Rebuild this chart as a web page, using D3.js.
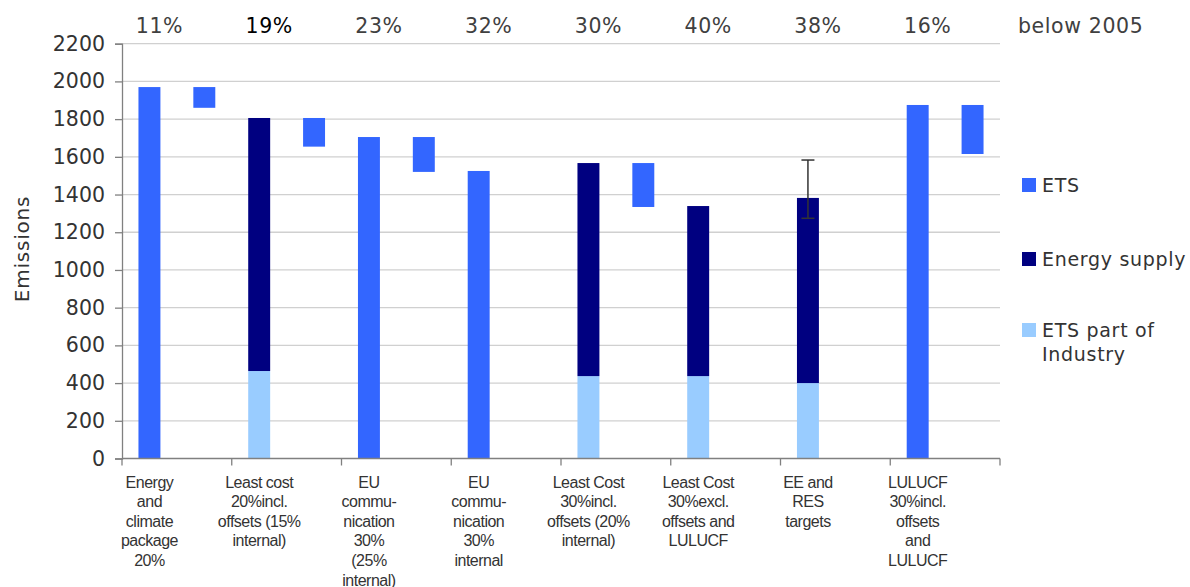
<!DOCTYPE html>
<html>
<head>
<meta charset="utf-8">
<script src="https://cdn.jsdelivr.net/npm/d3@7"></script>
<style>
  html, body { margin: 0; padding: 0; background: #fff; }
  svg { display: block; }
</style>
</head>
<body>
<svg id="chart" width="1190" height="587"></svg>
<script>
// Scenario names (multi-line x labels)
const categories = [
  ["Energy", "and", "climate", "package", "20%"],
  ["Least cost", "20%incl.", "offsets (15%", "internal)"],
  ["EU", "commu-", "nication", "30%", "(25%", "internal)"],
  ["EU", "commu-", "nication", "30%", "internal"],
  ["Least Cost", "30%incl.", "offsets (20%", "internal)"],
  ["Least Cost", "30%excl.", "offsets and", "LULUCF"],
  ["EE and", "RES", "targets"],
  ["LULUCF", "30%incl.", "offsets", "and", "LULUCF"]
];

// Reduction below 2005 for each scenario
const reductionLabels = ["11%", "19%", "23%", "32%", "30%", "40%", "38%", "16%"];
const highlighted = [false, true, false, false, false, false, false, false];

// Total ETS emissions (single bar scenarios)
const etsTotal = [1970, null, 1705, 1525, null, null, null, 1875];
// Stacked scenarios: ETS part of industry + energy supply
const industry = [null, 464, null, null, 437, 437, 400, null];
const energySupply = [null, 1342, null, null, 1130, 902, 982, null];
// Floating bars showing the ETS reduction range [low, high]
const reductionLow = [1860, 1654, 1520, null, 1334, null, null, 1615];
const reductionHigh = [1970, 1806, 1705, null, 1567, null, null, 1875];
// Uncertainty range on the EE and RES scenario
const errorLow = [null, null, null, null, null, null, 1274, null];
const errorHigh = [null, null, null, null, null, null, 1583, null];

const yTicks = [0, 200, 400, 600, 800, 1000, 1200, 1400, 1600, 1800, 2000, 2200];

const series = [
  { name: "ETS", color: "#3366ff" },
  { name: "Energy supply", color: "#000080" },
  { name: "ETS part of|Industry", color: "#99ccff" }
];

const svg = d3.select("#chart");
const plotLeft = 122, plotRight = 1000, plotTop = 43.7, plotBottom = 458.5;

const x = d3.scaleBand().domain(d3.range(categories.length)).range([plotLeft, plotRight]).padding(0);
const sub = d3.scaleBand().domain(["main", "delta"]).range([0, x.bandwidth()])
  .paddingInner(0.6).paddingOuter(0.3);
const y = d3.scaleLinear().domain([0, 2200]).range([plotBottom, plotTop]);

const mainX = i => x(i) + sub("main");
const deltaX = i => x(i) + sub("delta");
const bw = sub.bandwidth();

// Gridlines
svg.append("g").selectAll("line").data(yTicks.filter(t => t > 0)).join("line")
  .attr("x1", plotLeft).attr("x2", plotRight)
  .attr("y1", d => y(d)).attr("y2", d => y(d))
  .attr("stroke", "#d0d0d0").attr("stroke-width", 1.3);

// Y axis
const yAxis = svg.append("g").attr("transform", `translate(${plotLeft},0)`)
  .call(d3.axisLeft(y).tickValues(yTicks).tickSize(7).tickPadding(10).tickFormat(d3.format("d")));
yAxis.select(".domain").attr("stroke", "#808080").attr("stroke-width", 1.3);
yAxis.selectAll(".tick line").attr("stroke", "#808080").attr("stroke-width", 1.3);
yAxis.selectAll(".tick text")
  .attr("font-family", "DejaVu Sans, Verdana, sans-serif").attr("font-size", 20.5)
  .attr("fill", "#333");

// Axis title
svg.append("text")
  .attr("transform", `translate(29,249) rotate(-90)`)
  .attr("text-anchor", "middle")
  .attr("font-family", "DejaVu Sans, Verdana, sans-serif").attr("font-size", 20)
  .attr("letter-spacing", 0.8).attr("fill", "#333")
  .text("Emissions");

// Bars
const bars = svg.append("g");
categories.forEach((c, i) => {
  if (etsTotal[i] != null) {
    bars.append("rect").attr("x", mainX(i)).attr("width", bw)
      .attr("y", y(etsTotal[i])).attr("height", y(0) - y(etsTotal[i]))
      .attr("fill", series[0].color);
  }
  if (industry[i] != null) {
    bars.append("rect").attr("x", mainX(i)).attr("width", bw)
      .attr("y", y(industry[i])).attr("height", y(0) - y(industry[i]))
      .attr("fill", series[2].color);
    const topVal = industry[i] + energySupply[i];
    bars.append("rect").attr("x", mainX(i)).attr("width", bw)
      .attr("y", y(topVal)).attr("height", y(industry[i]) - y(topVal))
      .attr("fill", series[1].color);
  }
  if (reductionLow[i] != null) {
    bars.append("rect").attr("x", deltaX(i)).attr("width", bw)
      .attr("y", y(reductionHigh[i])).attr("height", y(reductionLow[i]) - y(reductionHigh[i]))
      .attr("fill", series[0].color);
  }
  if (errorLow[i] != null) {
    const cx = mainX(i) + bw / 2;
    const g = bars.append("g").attr("stroke", "#333").attr("stroke-width", 1.5);
    g.append("line").attr("x1", cx).attr("x2", cx).attr("y1", y(errorLow[i])).attr("y2", y(errorHigh[i]));
    [errorLow[i], errorHigh[i]].forEach(v => {
      g.append("line").attr("x1", cx - 6.5).attr("x2", cx + 6.5).attr("y1", y(v)).attr("y2", y(v));
    });
  }
});

// X axis
const xAxis = svg.append("g").attr("transform", `translate(0,${plotBottom})`);
xAxis.append("line").attr("x1", plotLeft).attr("x2", plotRight).attr("stroke", "#808080").attr("stroke-width", 1.3);
xAxis.selectAll("line.tk").data(d3.range(categories.length + 1)).join("line").attr("class", "tk")
  .attr("x1", i => i < categories.length ? x(i) : plotRight)
  .attr("x2", i => i < categories.length ? x(i) : plotRight)
  .attr("y1", 0).attr("y2", 7).attr("stroke", "#808080").attr("stroke-width", 1.3);

// X labels (centred under the main bar)
categories.forEach((lines, i) => {
  const t = svg.append("text")
    .attr("text-anchor", "middle")
    .attr("font-family", "Liberation Sans, Arial, sans-serif").attr("font-size", 16)
    .attr("letter-spacing", -0.5).attr("fill", "#333");
  lines.forEach((ln, k) => {
    t.append("tspan").attr("x", mainX(i) + bw / 2).attr("y", 487.5 + k * 19.6).text(ln);
  });
});

// Reduction percentages above the plot
svg.append("g").selectAll("text").data(reductionLabels).join("text")
  .attr("x", (d, i) => mainX(i) + bw / 2 + 10)
  .attr("y", 33)
  .attr("text-anchor", "middle")
  .attr("font-family", "DejaVu Sans, Verdana, sans-serif").attr("font-size", 20.5)
  .attr("letter-spacing", 0.6)
  .attr("fill", (d, i) => highlighted[i] ? "#000" : "#404040")
  .text(d => d);

svg.append("text").attr("x", 1018).attr("y", 33)
  .attr("font-family", "DejaVu Sans, Verdana, sans-serif").attr("font-size", 20.5)
  .attr("letter-spacing", 0.6).attr("fill", "#404040")
  .text("below 2005");

// Legend
const legendY = [178, 252, 323];
const legend = svg.append("g");
series.forEach((s, k) => {
  legend.append("rect").attr("x", 1022).attr("y", legendY[k]).attr("width", 14).attr("height", 14)
    .attr("fill", s.color);
  const t = legend.append("text")
    .attr("font-family", "DejaVu Sans, Verdana, sans-serif").attr("font-size", 19)
    .attr("letter-spacing", 0.7).attr("fill", "#333");
  s.name.split("|").forEach((ln, j) => {
    t.append("tspan").attr("x", 1042).attr("y", legendY[k] + 14 + j * 24).text(ln);
  });
});
</script>
</body>
</html>
